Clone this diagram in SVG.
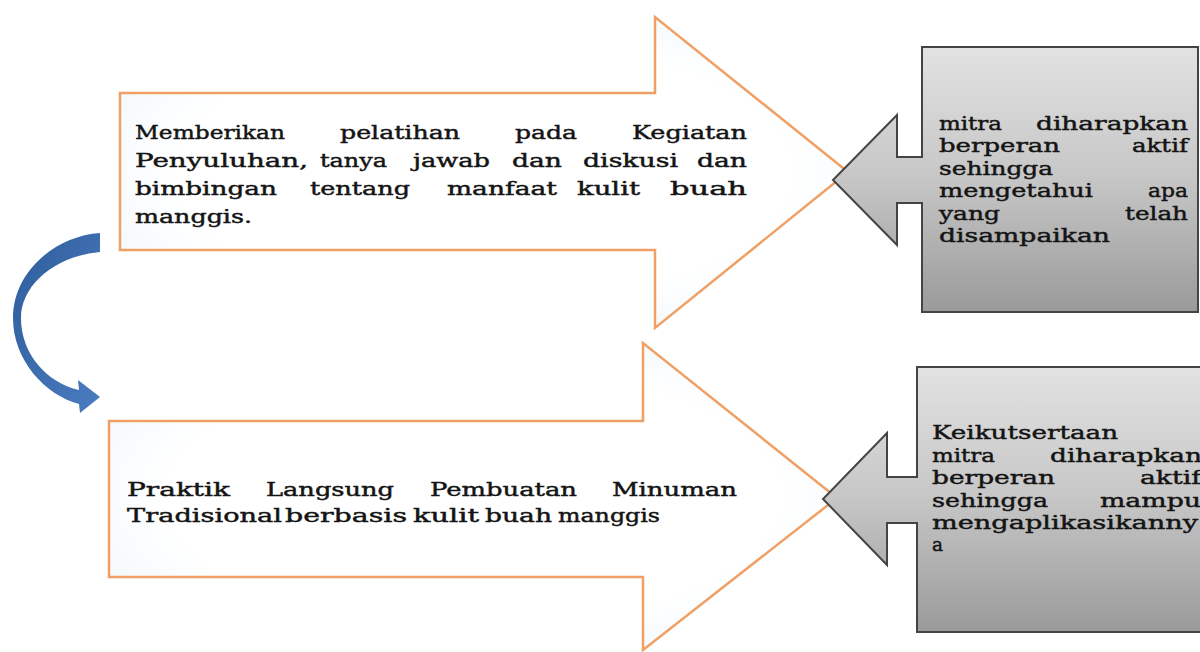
<svg xmlns="http://www.w3.org/2000/svg" width="1200" height="652" viewBox="0 0 1200 652">
<defs>
<linearGradient id="gray" x1="0" y1="0" x2="0" y2="1">
<stop offset="0" stop-color="#e2e2e2"/>
<stop offset="0.5" stop-color="#c6c6c6"/>
<stop offset="1" stop-color="#9a9a9a"/>
</linearGradient>
<radialGradient id="paper" cx="0.5" cy="0.5" r="0.7">
<stop offset="0.6" stop-color="#ffffff"/>
<stop offset="1" stop-color="#eaf4fb"/>
</radialGradient>
<linearGradient id="blue" x1="0" y1="0" x2="1" y2="1">
<stop offset="0" stop-color="#2f5d9c"/>
<stop offset="1" stop-color="#4a7cc0"/>
</linearGradient>
</defs>
<style>
.orange{fill:url(#paper);stroke:#f0a064;stroke-width:2.5;stroke-linejoin:miter}
.grayshape{fill:url(#gray);stroke:#444;stroke-width:2}
.t{font-family:"DejaVu Serif","Liberation Serif",serif;font-size:19px;fill:#141414;stroke:#141414;stroke-width:0.45}
</style>
<rect width="1200" height="652" fill="#ffffff"/>

<g id="node-top-arrow">
<path class="orange" d="M120 93 L655 93 L655 17 L848 172 L655 328 L655 250 L120 250 Z"/>
<g class="t">
<text x="135" y="139" textLength="150" lengthAdjust="spacingAndGlyphs">Memberikan</text>
<text x="340" y="139" textLength="120" lengthAdjust="spacingAndGlyphs">pelatihan</text>
<text x="515" y="139" textLength="62" lengthAdjust="spacingAndGlyphs">pada</text>
<text x="632" y="139" textLength="115" lengthAdjust="spacingAndGlyphs">Kegiatan</text>
<text x="135" y="167" textLength="173" lengthAdjust="spacingAndGlyphs">Penyuluhan,</text>
<text x="320" y="167" textLength="67" lengthAdjust="spacingAndGlyphs">tanya</text>
<text x="413" y="167" textLength="77" lengthAdjust="spacingAndGlyphs">jawab</text>
<text x="512" y="167" textLength="50" lengthAdjust="spacingAndGlyphs">dan</text>
<text x="583" y="167" textLength="95" lengthAdjust="spacingAndGlyphs">diskusi</text>
<text x="697" y="167" textLength="50" lengthAdjust="spacingAndGlyphs">dan</text>
<text x="135" y="195" textLength="142" lengthAdjust="spacingAndGlyphs">bimbingan</text>
<text x="310" y="195" textLength="100" lengthAdjust="spacingAndGlyphs">tentang</text>
<text x="447" y="195" textLength="110" lengthAdjust="spacingAndGlyphs">manfaat</text>
<text x="577" y="195" textLength="63" lengthAdjust="spacingAndGlyphs">kulit</text>
<text x="670" y="195" textLength="77" lengthAdjust="spacingAndGlyphs">buah</text>
<text x="135" y="223" textLength="117" lengthAdjust="spacingAndGlyphs">manggis.</text>
</g>
</g>

<g id="node-bottom-arrow">
<path class="orange" d="M109 421 L643 421 L643 343 L837 498 L643 650 L643 577 L109 577 Z"/>
<g class="t">
<text x="127" y="496" textLength="103" lengthAdjust="spacingAndGlyphs">Praktik</text>
<text x="266" y="496" textLength="128" lengthAdjust="spacingAndGlyphs">Langsung</text>
<text x="430" y="496" textLength="147" lengthAdjust="spacingAndGlyphs">Pembuatan</text>
<text x="612" y="496" textLength="125" lengthAdjust="spacingAndGlyphs">Minuman</text>
<text x="127" y="522" textLength="155" lengthAdjust="spacingAndGlyphs">Tradisional</text>
<text x="285" y="522" textLength="122" lengthAdjust="spacingAndGlyphs">berbasis</text>
<text x="413" y="522" textLength="66" lengthAdjust="spacingAndGlyphs">kulit</text>
<text x="485" y="522" textLength="67" lengthAdjust="spacingAndGlyphs">buah</text>
<text x="558" y="522" textLength="102" lengthAdjust="spacingAndGlyphs">manggis</text>
</g>
</g>

<g id="node-top-box">
<path class="grayshape" d="M922 47 L1198 47 L1198 312 L922 312 L922 203 L897 203 L897 245 L833 180 L897 115 L897 157 L922 157 Z"/>
<g class="t">
<text x="939" y="130" textLength="63" lengthAdjust="spacingAndGlyphs">mitra</text>
<text x="1036" y="130" textLength="152" lengthAdjust="spacingAndGlyphs">diharapkan</text>
<text x="939" y="152" textLength="121" lengthAdjust="spacingAndGlyphs">berperan</text>
<text x="1132" y="152" textLength="56" lengthAdjust="spacingAndGlyphs">aktif</text>
<text x="939" y="175" textLength="114" lengthAdjust="spacingAndGlyphs">sehingga</text>
<text x="939" y="197" textLength="154" lengthAdjust="spacingAndGlyphs">mengetahui</text>
<text x="1148" y="197" textLength="40" lengthAdjust="spacingAndGlyphs">apa</text>
<text x="939" y="220" textLength="61" lengthAdjust="spacingAndGlyphs">yang</text>
<text x="1125" y="220" textLength="63" lengthAdjust="spacingAndGlyphs">telah</text>
<text x="939" y="242" textLength="171" lengthAdjust="spacingAndGlyphs">disampaikan</text>
</g>
</g>

<g id="node-bottom-box">
<path class="grayshape" d="M917 367 L1212 367 L1212 632 L917 632 L917 523 L887 523 L887 565 L823 499 L887 433 L887 477 L917 477 Z"/>
<g class="t">
<text x="932" y="439" textLength="186" lengthAdjust="spacingAndGlyphs">Keikutsertaan</text>
<text x="932" y="462" textLength="63" lengthAdjust="spacingAndGlyphs">mitra</text>
<text x="1050" y="462" textLength="152" lengthAdjust="spacingAndGlyphs">diharapkan</text>
<text x="932" y="484" textLength="123" lengthAdjust="spacingAndGlyphs">berperan</text>
<text x="1140" y="484" textLength="61" lengthAdjust="spacingAndGlyphs">aktif</text>
<text x="932" y="507" textLength="116" lengthAdjust="spacingAndGlyphs">sehingga</text>
<text x="1100" y="507" textLength="101" lengthAdjust="spacingAndGlyphs">mampu</text>
<text x="932" y="529" textLength="266" lengthAdjust="spacingAndGlyphs">mengaplikasikanny</text>
<text x="932" y="551" textLength="11" lengthAdjust="spacingAndGlyphs">a</text>
</g>
</g>

<g id="connectors">
<path fill="url(#blue)" d="M100 233 C55 236 13 272 13 318 C13 360 45 395 79 404 L80 413 L100 397 L78 380 L79 390 C48 383 21 355 21 318 C21 285 55 256 100 252 Z"/>
</g>
</svg>
